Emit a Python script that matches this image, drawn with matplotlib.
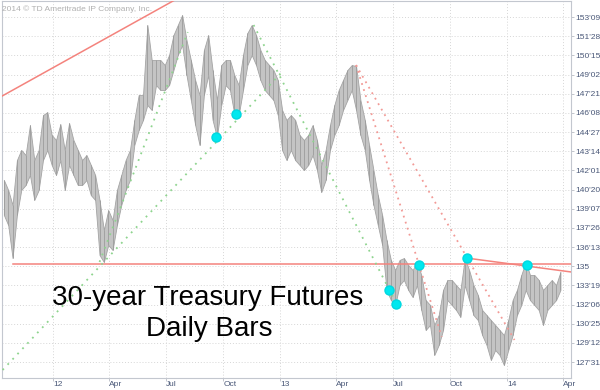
import matplotlib
matplotlib.use("Agg")
import matplotlib.pyplot as plt
import numpy as np
import pandas as pd

# weekly high / low of the 30-year T-bond future
week_start = "2011-10-14"
week_high = [141.33, 140.59, 139.49, 142.79, 143.53, 143.16, 145.36, 142.79, 143.53, 146.09,
             146.31, 144.63, 144.26, 145.43, 143.53, 145.51, 144.26, 143.53, 142.79, 143.16,
             142.43, 141.69, 139.86, 137.66, 139.12, 138.39, 140.59, 141.69, 142.79, 143.53,
             145.73, 147.56, 147.56, 152.70, 150.13, 150.13, 150.13, 149.76, 150.50, 151.96,
             152.70, 153.43, 151.60, 150.13, 148.66, 147.56, 150.86, 151.96, 149.39, 147.19,
             149.76, 150.13, 150.13, 149.03, 148.29, 150.50, 152.11, 152.70, 151.96, 150.86,
             150.13, 149.76, 149.39, 148.66, 146.46, 145.73, 146.09, 145.73, 144.63, 144.26,
             144.63, 145.36, 144.26, 142.43, 143.53, 145.36, 146.83, 147.93, 148.66, 149.39,
             149.76, 149.69, 147.19, 145.73, 143.89, 142.06, 140.22, 138.76, 136.92, 135.46,
             134.72, 135.46, 135.60, 135.09, 134.72, 135.31, 134.36, 132.52, 132.16, 130.69,
             131.42, 133.26, 133.99, 133.99, 133.62, 133.26, 135.60, 134.72, 133.62, 132.89,
             131.79, 131.42, 131.05, 130.69, 130.32, 129.95, 131.05, 132.52, 133.26, 134.36,
             135.31, 134.36, 134.36, 133.99, 133.26, 133.62, 133.99, 133.62, 134.58]
week_low = [138.76, 138.02, 135.60, 138.76, 140.59, 140.96, 141.69, 139.86, 140.59, 142.79,
            143.53, 142.43, 141.69, 142.79, 140.59, 142.43, 141.69, 140.96, 140.96, 141.33,
            140.22, 139.86, 135.82, 135.31, 136.56, 136.19, 138.02, 139.49, 140.59, 141.33,
            143.89, 144.99, 145.73, 146.83, 146.46, 148.29, 147.93, 147.93, 148.29, 149.39,
            150.50, 151.23, 149.03, 147.19, 145.36, 143.89, 147.56, 149.03, 145.73, 144.48,
            146.83, 148.29, 147.93, 146.17, 146.09, 147.93, 149.76, 150.50, 149.76, 148.66,
            147.93, 147.56, 147.19, 146.09, 143.53, 142.79, 143.53, 142.79, 142.43, 142.06,
            142.43, 143.16, 142.06, 140.44, 141.33, 143.53, 144.63, 145.36, 146.46, 147.19,
            147.93, 146.46, 144.63, 143.53, 141.33, 139.49, 138.02, 136.56, 133.26, 132.52,
            132.16, 133.62, 133.99, 133.26, 132.74, 133.62, 131.79, 130.32, 130.69, 128.49,
            129.22, 130.32, 132.52, 132.16, 131.79, 131.28, 133.62, 132.52, 131.42, 131.05,
            129.95, 129.22, 128.12, 128.85, 128.49, 127.75, 128.85, 129.95, 131.42, 132.16,
            133.26, 132.52, 132.16, 131.79, 130.69, 131.79, 132.16, 132.52, 133.26]

# trend lines (date, price) pairs
red_solid = [(["2011-10-01", "2012-08-01"], [147.23, 154.96]),
             (["2011-10-29", "2014-04-20"], [135.2, 135.2]),
             (["2013-10-28", "2014-04-14"], [135.60, 134.58])]
red_dotted = [(["2013-05-03", "2013-09-18"], [149.76, 129.81]),
              (["2013-05-03", "2014-01-13"], [149.76, 129.59])]
green_dotted = [(["2011-10-12", "2013-01-02"], [127.39, 149.17]),
                (["2012-03-16", "2012-08-05"], [135.31, 152.18]),
                (["2012-11-19", "2013-07-08"], [152.70, 132.16])]
dot_dates = ["2012-09-19", "2012-10-21", "2013-06-25", "2013-07-06", "2013-08-12", "2013-10-28", "2014-02-02"]
dot_prices = [144.48, 146.17, 133.26, 132.23, 135.09, 135.60, 135.09]

y_tick_labels = ["127'31", "129'12", "130'25", "132'06", "133'19", "135", "136'13", "137'26",
                 "139'07", "140'20", "142'01", "143'14", "144'27", "146'08", "147'21", "149'02",
                 "150'15", "151'28", "153'09"]
x_tick_dates = ["2012-01-01", "2012-04-01", "2012-07-01", "2012-10-01", "2013-01-01",
                "2013-04-01", "2013-07-01", "2013-10-01", "2014-01-01", "2014-04-01"]
x_tick_labels = ["12", "Apr", "Jul", "Oct", "13", "Apr", "Jul", "Oct", "14", "Apr"]


def from32(s):
    if "'" in s:
        a, b = s.split("'")
        return int(a) + int(b) / 32
    return float(s)


dates = pd.date_range(week_start, periods=len(week_high), freq="7D")
hi = np.array(week_high)
lo = np.array(week_low)

fig = plt.figure(figsize=(6, 3.9), dpi=100)
ax = fig.add_axes([2 / 600, 12 / 390, 569 / 600, 377 / 390])

# price band + bar ticks
ax.fill_between(dates, lo, hi, color="#c4c4c4", linewidth=0.6, edgecolor="#a4a4a4", zorder=2)
ax.vlines(dates, lo, hi, color="#9c9c9c", lw=0.6, zorder=3)

for d, p in red_solid:
    ax.plot(pd.to_datetime(d), p, color="#f4837d", lw=1.1, zorder=4)
for d, p in red_dotted:
    ax.plot(pd.to_datetime(d), p, color="#f29a96", lw=1.3, ls=(0, (1, 2.5)), zorder=4)
for d, p in green_dotted:
    ax.plot(pd.to_datetime(d), p, color="#8ed48e", lw=1.3, ls=(0, (1, 3)), zorder=4)
ax.plot(pd.to_datetime(dot_dates), dot_prices, "o", ms=6.5, color="#00e8ef", mec="#00d8e0", zorder=5)

ax.set_xlim(pd.Timestamp("2011-10-11"), pd.Timestamp("2014-04-14"))
ax.set_ylim(126.80, 154.46)

yt = [from32(s) for s in y_tick_labels]
ax.yaxis.tick_right()
ax.set_yticks(yt)
ax.set_yticklabels(y_tick_labels)
ax.set_xticks(pd.to_datetime(x_tick_dates))
ax.set_xticklabels(x_tick_labels, ha="left")

tick_font = ["Liberation Sans", "DejaVu Sans"]
for lab in ax.get_yticklabels() + ax.get_xticklabels():
    lab.set_family(tick_font)
    lab.set_fontsize(6)
    lab.set_color("#4a5878")
ax.tick_params(axis="y", length=2, width=0.6, color="#b8bcc4", pad=1)
ax.tick_params(axis="x", length=2, width=0.6, color="#b8bcc4", pad=0.5)

ax.grid(True, color="#d6d6d6", lw=0.7, ls=(0, (1, 2)), zorder=0)
for s in ax.spines.values():
    s.set_color("#c3c7cf")
    s.set_linewidth(0.8)

fig.text(2 / 600, 1 - 11 / 390, "2014 \u00a9 TD Ameritrade IP Company, Inc.", fontsize=6,
         color="#b0b0b0", family=["Liberation Sans", "DejaVu Sans"])
fig.text(208 / 600, 1 - 305 / 390, "30-year Treasury Futures", fontsize=20, ha="center",
         va="baseline", family=["Liberation Sans", "DejaVu Sans"], color="black")
fig.text(209 / 600, 1 - 336 / 390, "Daily Bars", fontsize=20, ha="center",
         va="baseline", family=["Liberation Sans", "DejaVu Sans"], color="black")

fig.savefig("out.png", dpi=100)
